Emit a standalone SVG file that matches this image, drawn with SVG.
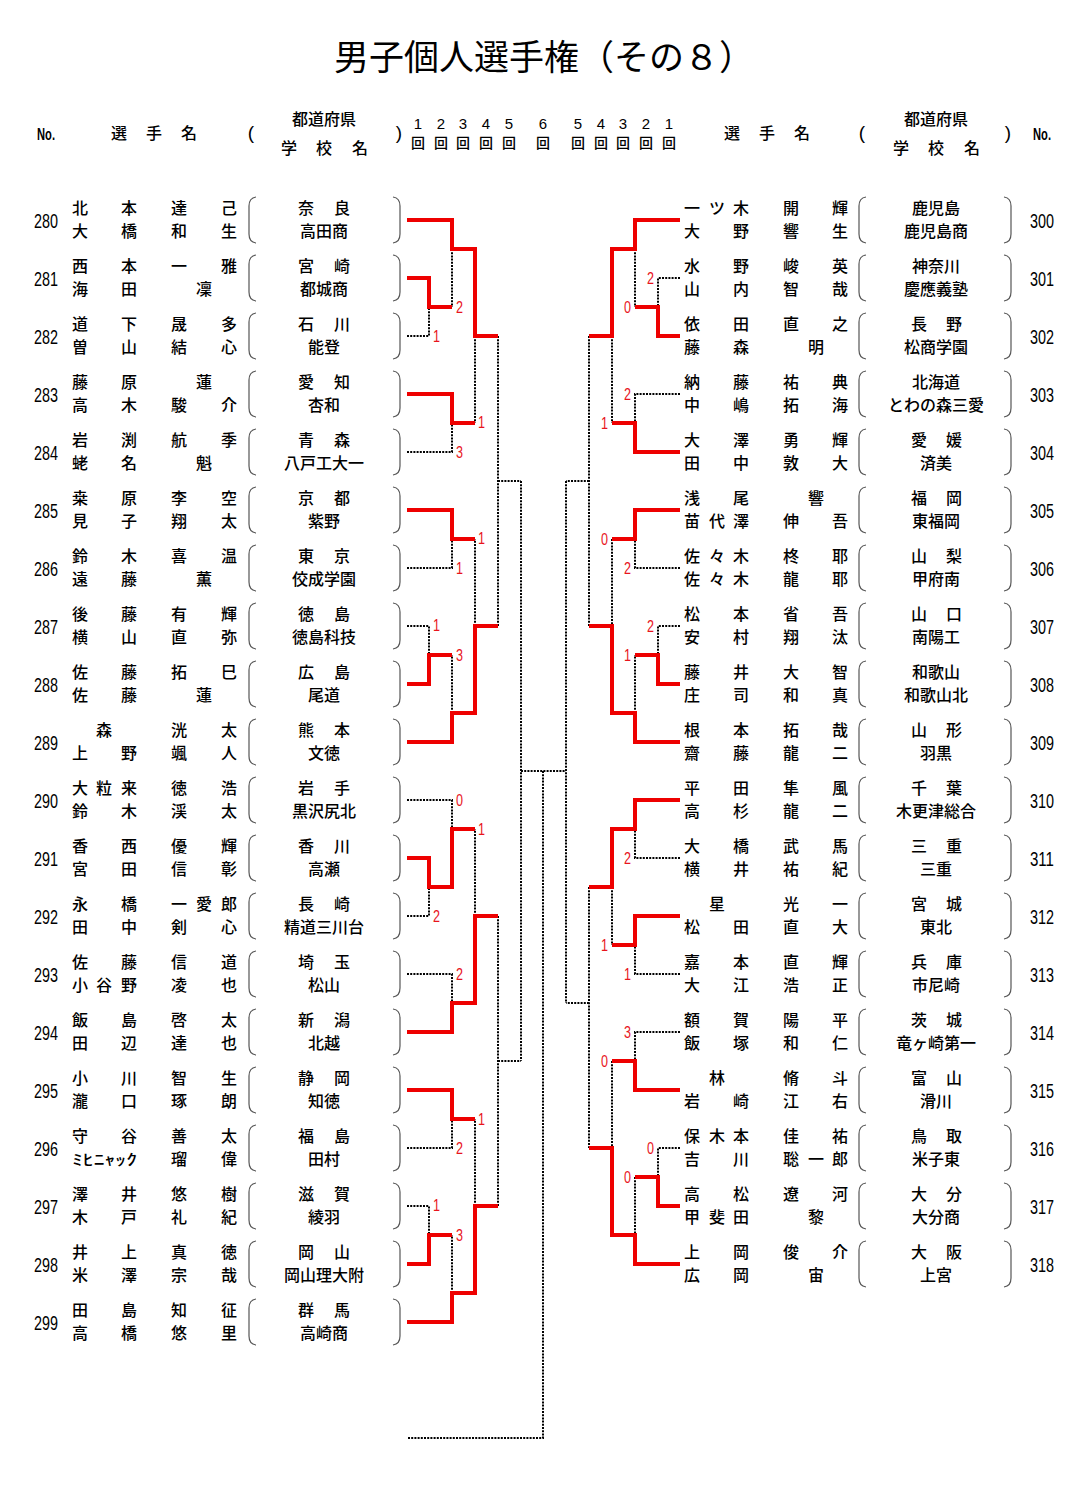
<svg xmlns="http://www.w3.org/2000/svg" xmlns:xlink="http://www.w3.org/1999/xlink" width="1083" height="1490" viewBox="0 0 1083 1490">
<style>
.t{font-family:"Noto Sans CJK JP","Noto Sans CJK SC",sans-serif;font-size:16px;font-weight:500;fill:#000;text-anchor:middle}
.n{font-family:"Liberation Sans Narrow","Liberation Sans",sans-serif;font-size:19px;fill:#000;text-anchor:middle}
.m{font-family:"Liberation Sans Narrow","Liberation Sans",sans-serif;font-size:20px;fill:#000;text-anchor:middle}
.h{font-family:"Liberation Sans",sans-serif;font-size:15px;fill:#000;text-anchor:middle}
.s{font-family:"Liberation Sans Narrow","Liberation Sans",sans-serif;font-size:17px;fill:#e8141c}
.e{text-anchor:end}
.w{fill:none;stroke:#ee0000;stroke-width:4}
.d{fill:none;stroke:#000;stroke-width:2;stroke-dasharray:2 1.2}
.p{fill:none;stroke:#555;stroke-width:1.2}
</style>
<defs>
<path id="lb" class="p" d="M7 -23Q0 -22 0 -14V14Q0 22 7 23"/>
<path id="rb" class="p" d="M0 -23Q7 -22 7 -14V14Q7 22 0 23"/>
</defs>
<rect width="1083" height="1490" fill="#fff"/>
<g id="title"><text class="t" x="544" y="70" style="font-size:35px;font-weight:400">男子個人選手権（その８）</text></g>
<g id="header">
<text class="n" x="46" y="140" style="font-size:17px;font-weight:bold" textLength="18" lengthAdjust="spacingAndGlyphs">No.</text>
<text class="t" x="119 154 189" y="139">選手名</text>
<text class="n" x="251" y="139">(</text>
<text class="t" x="324" y="125">都道府県</text>
<text class="t" x="289 324 360" y="154">学校名</text>
<text class="n" x="399" y="139">)</text>
<text class="h" x="418 441 463 486 509 543 578 601 623 646 669" y="129">12345654321</text>
<text class="t" x="418 441 463 486 509 543 578 601 623 646 669" y="148" style="font-size:14px">回回回回回回回回回回回</text>
<text class="t" x="732 767 802" y="139">選手名</text>
<text class="n" x="862" y="139">(</text>
<text class="t" x="936" y="125">都道府県</text>
<text class="t" x="901 936 972" y="154">学校名</text>
<text class="n" x="1008" y="139">)</text>
<text class="n" x="1042" y="140" style="font-size:17px;font-weight:bold" textLength="18" lengthAdjust="spacingAndGlyphs">No.</text>
</g>
<g id="left-players">
<g id="p280"><text class="m" x="46" y="228" textLength="24" lengthAdjust="spacingAndGlyphs">280</text><text class="t" x="80 129 179 229" y="214">北本達己</text><text class="t" x="80 129 179 229" y="237">大橋和生</text><text class="t" x="306 342" y="214">奈良</text><text class="t" x="324" y="237">高田商</text><use href="#lb" x="249" y="220"/><use href="#rb" x="393" y="220"/></g>
<g id="p281"><text class="m" x="46" y="286" textLength="24" lengthAdjust="spacingAndGlyphs">281</text><text class="t" x="80 129 179 229" y="272">西本一雅</text><text class="t" x="80 129 204" y="295">海田凜</text><text class="t" x="306 342" y="272">宮崎</text><text class="t" x="324" y="295">都城商</text><use href="#lb" x="249" y="278"/><use href="#rb" x="393" y="278"/></g>
<g id="p282"><text class="m" x="46" y="344" textLength="24" lengthAdjust="spacingAndGlyphs">282</text><text class="t" x="80 129 179 229" y="330">道下晟多</text><text class="t" x="80 129 179 229" y="353">曽山結心</text><text class="t" x="306 342" y="330">石川</text><text class="t" x="324" y="353">能登</text><use href="#lb" x="249" y="336"/><use href="#rb" x="393" y="336"/></g>
<g id="p283"><text class="m" x="46" y="402" textLength="24" lengthAdjust="spacingAndGlyphs">283</text><text class="t" x="80 129 204" y="388">藤原蓮</text><text class="t" x="80 129 179 229" y="411">高木駿介</text><text class="t" x="306 342" y="388">愛知</text><text class="t" x="324" y="411">杏和</text><use href="#lb" x="249" y="394"/><use href="#rb" x="393" y="394"/></g>
<g id="p284"><text class="m" x="46" y="460" textLength="24" lengthAdjust="spacingAndGlyphs">284</text><text class="t" x="80 129 179 229" y="446">岩渕航季</text><text class="t" x="80 129 204" y="469">蛯名魁</text><text class="t" x="306 342" y="446">青森</text><text class="t" x="324" y="469">八戸工大一</text><use href="#lb" x="249" y="452"/><use href="#rb" x="393" y="452"/></g>
<g id="p285"><text class="m" x="46" y="518" textLength="24" lengthAdjust="spacingAndGlyphs">285</text><text class="t" x="80 129 179 229" y="504">桒原李空</text><text class="t" x="80 129 179 229" y="527">見子翔太</text><text class="t" x="306 342" y="504">京都</text><text class="t" x="324" y="527">紫野</text><use href="#lb" x="249" y="510"/><use href="#rb" x="393" y="510"/></g>
<g id="p286"><text class="m" x="46" y="576" textLength="24" lengthAdjust="spacingAndGlyphs">286</text><text class="t" x="80 129 179 229" y="562">鈴木喜温</text><text class="t" x="80 129 204" y="585">遠藤薫</text><text class="t" x="306 342" y="562">東京</text><text class="t" x="324" y="585">佼成学園</text><use href="#lb" x="249" y="568"/><use href="#rb" x="393" y="568"/></g>
<g id="p287"><text class="m" x="46" y="634" textLength="24" lengthAdjust="spacingAndGlyphs">287</text><text class="t" x="80 129 179 229" y="620">後藤有輝</text><text class="t" x="80 129 179 229" y="643">横山直弥</text><text class="t" x="306 342" y="620">徳島</text><text class="t" x="324" y="643">徳島科技</text><use href="#lb" x="249" y="626"/><use href="#rb" x="393" y="626"/></g>
<g id="p288"><text class="m" x="46" y="692" textLength="24" lengthAdjust="spacingAndGlyphs">288</text><text class="t" x="80 129 179 229" y="678">佐藤拓巳</text><text class="t" x="80 129 204" y="701">佐藤蓮</text><text class="t" x="306 342" y="678">広島</text><text class="t" x="324" y="701">尾道</text><use href="#lb" x="249" y="684"/><use href="#rb" x="393" y="684"/></g>
<g id="p289"><text class="m" x="46" y="750" textLength="24" lengthAdjust="spacingAndGlyphs">289</text><text class="t" x="104 179 229" y="736">森洸太</text><text class="t" x="80 129 179 229" y="759">上野颯人</text><text class="t" x="306 342" y="736">熊本</text><text class="t" x="324" y="759">文徳</text><use href="#lb" x="249" y="742"/><use href="#rb" x="393" y="742"/></g>
<g id="p290"><text class="m" x="46" y="808" textLength="24" lengthAdjust="spacingAndGlyphs">290</text><text class="t" x="80 104 129 179 229" y="794">大粒来徳浩</text><text class="t" x="80 129 179 229" y="817">鈴木渓太</text><text class="t" x="306 342" y="794">岩手</text><text class="t" x="324" y="817">黒沢尻北</text><use href="#lb" x="249" y="800"/><use href="#rb" x="393" y="800"/></g>
<g id="p291"><text class="m" x="46" y="866" textLength="24" lengthAdjust="spacingAndGlyphs">291</text><text class="t" x="80 129 179 229" y="852">香西優輝</text><text class="t" x="80 129 179 229" y="875">宮田信彰</text><text class="t" x="306 342" y="852">香川</text><text class="t" x="324" y="875">高瀬</text><use href="#lb" x="249" y="858"/><use href="#rb" x="393" y="858"/></g>
<g id="p292"><text class="m" x="46" y="924" textLength="24" lengthAdjust="spacingAndGlyphs">292</text><text class="t" x="80 129 179 204 229" y="910">永橋一愛郎</text><text class="t" x="80 129 179 229" y="933">田中剣心</text><text class="t" x="306 342" y="910">長崎</text><text class="t" x="324" y="933">精道三川台</text><use href="#lb" x="249" y="916"/><use href="#rb" x="393" y="916"/></g>
<g id="p293"><text class="m" x="46" y="982" textLength="24" lengthAdjust="spacingAndGlyphs">293</text><text class="t" x="80 129 179 229" y="968">佐藤信道</text><text class="t" x="80 104 129 179 229" y="991">小谷野凌也</text><text class="t" x="306 342" y="968">埼玉</text><text class="t" x="324" y="991">松山</text><use href="#lb" x="249" y="974"/><use href="#rb" x="393" y="974"/></g>
<g id="p294"><text class="m" x="46" y="1040" textLength="24" lengthAdjust="spacingAndGlyphs">294</text><text class="t" x="80 129 179 229" y="1026">飯島啓太</text><text class="t" x="80 129 179 229" y="1049">田辺達也</text><text class="t" x="306 342" y="1026">新潟</text><text class="t" x="324" y="1049">北越</text><use href="#lb" x="249" y="1032"/><use href="#rb" x="393" y="1032"/></g>
<g id="p295"><text class="m" x="46" y="1098" textLength="24" lengthAdjust="spacingAndGlyphs">295</text><text class="t" x="80 129 179 229" y="1084">小川智生</text><text class="t" x="80 129 179 229" y="1107">瀧口琢朗</text><text class="t" x="306 342" y="1084">静岡</text><text class="t" x="324" y="1107">知徳</text><use href="#lb" x="249" y="1090"/><use href="#rb" x="393" y="1090"/></g>
<g id="p296"><text class="m" x="46" y="1156" textLength="24" lengthAdjust="spacingAndGlyphs">296</text><text class="t" x="80 129 179 229" y="1142">守谷善太</text><text class="t" x="72" y="1165" style="text-anchor:start;font-size:15px" textLength="65" lengthAdjust="spacingAndGlyphs">ﾐﾋﾆｬｯｸ</text><text class="t" x="179 229" y="1165">瑠偉</text><text class="t" x="306 342" y="1142">福島</text><text class="t" x="324" y="1165">田村</text><use href="#lb" x="249" y="1148"/><use href="#rb" x="393" y="1148"/></g>
<g id="p297"><text class="m" x="46" y="1214" textLength="24" lengthAdjust="spacingAndGlyphs">297</text><text class="t" x="80 129 179 229" y="1200">澤井悠樹</text><text class="t" x="80 129 179 229" y="1223">木戸礼紀</text><text class="t" x="306 342" y="1200">滋賀</text><text class="t" x="324" y="1223">綾羽</text><use href="#lb" x="249" y="1206"/><use href="#rb" x="393" y="1206"/></g>
<g id="p298"><text class="m" x="46" y="1272" textLength="24" lengthAdjust="spacingAndGlyphs">298</text><text class="t" x="80 129 179 229" y="1258">井上真徳</text><text class="t" x="80 129 179 229" y="1281">米澤宗哉</text><text class="t" x="306 342" y="1258">岡山</text><text class="t" x="324" y="1281">岡山理大附</text><use href="#lb" x="249" y="1264"/><use href="#rb" x="393" y="1264"/></g>
<g id="p299"><text class="m" x="46" y="1330" textLength="24" lengthAdjust="spacingAndGlyphs">299</text><text class="t" x="80 129 179 229" y="1316">田島知征</text><text class="t" x="80 129 179 229" y="1339">高橋悠里</text><text class="t" x="306 342" y="1316">群馬</text><text class="t" x="324" y="1339">高崎商</text><use href="#lb" x="249" y="1322"/><use href="#rb" x="393" y="1322"/></g>
</g>
<g id="right-players">
<g id="p300"><text class="t" x="692 717 741 791 840" y="214">一ツ木開輝</text><text class="t" x="692 741 791 840" y="237">大野響生</text><text class="t" x="936" y="214">鹿児島</text><text class="t" x="936" y="237">鹿児島商</text><use href="#lb" x="859" y="220"/><use href="#rb" x="1004" y="220"/><text class="m" x="1042" y="228" textLength="24" lengthAdjust="spacingAndGlyphs">300</text></g>
<g id="p301"><text class="t" x="692 741 791 840" y="272">水野峻英</text><text class="t" x="692 741 791 840" y="295">山内智哉</text><text class="t" x="936" y="272">神奈川</text><text class="t" x="936" y="295">慶應義塾</text><use href="#lb" x="859" y="278"/><use href="#rb" x="1004" y="278"/><text class="m" x="1042" y="286" textLength="24" lengthAdjust="spacingAndGlyphs">301</text></g>
<g id="p302"><text class="t" x="692 741 791 840" y="330">依田直之</text><text class="t" x="692 741 816" y="353">藤森明</text><text class="t" x="919 954" y="330">長野</text><text class="t" x="936" y="353">松商学園</text><use href="#lb" x="859" y="336"/><use href="#rb" x="1004" y="336"/><text class="m" x="1042" y="344" textLength="24" lengthAdjust="spacingAndGlyphs">302</text></g>
<g id="p303"><text class="t" x="692 741 791 840" y="388">納藤祐典</text><text class="t" x="692 741 791 840" y="411">中嶋拓海</text><text class="t" x="936" y="388">北海道</text><text class="t" x="936" y="411">とわの森三愛</text><use href="#lb" x="859" y="394"/><use href="#rb" x="1004" y="394"/><text class="m" x="1042" y="402" textLength="24" lengthAdjust="spacingAndGlyphs">303</text></g>
<g id="p304"><text class="t" x="692 741 791 840" y="446">大澤勇輝</text><text class="t" x="692 741 791 840" y="469">田中敦大</text><text class="t" x="919 954" y="446">愛媛</text><text class="t" x="936" y="469">済美</text><use href="#lb" x="859" y="452"/><use href="#rb" x="1004" y="452"/><text class="m" x="1042" y="460" textLength="24" lengthAdjust="spacingAndGlyphs">304</text></g>
<g id="p305"><text class="t" x="692 741 816" y="504">浅尾響</text><text class="t" x="692 717 741 791 840" y="527">苗代澤伸吾</text><text class="t" x="919 954" y="504">福岡</text><text class="t" x="936" y="527">東福岡</text><use href="#lb" x="859" y="510"/><use href="#rb" x="1004" y="510"/><text class="m" x="1042" y="518" textLength="24" lengthAdjust="spacingAndGlyphs">305</text></g>
<g id="p306"><text class="t" x="692 717 741 791 840" y="562">佐々木柊耶</text><text class="t" x="692 717 741 791 840" y="585">佐々木龍耶</text><text class="t" x="919 954" y="562">山梨</text><text class="t" x="936" y="585">甲府南</text><use href="#lb" x="859" y="568"/><use href="#rb" x="1004" y="568"/><text class="m" x="1042" y="576" textLength="24" lengthAdjust="spacingAndGlyphs">306</text></g>
<g id="p307"><text class="t" x="692 741 791 840" y="620">松本省吾</text><text class="t" x="692 741 791 840" y="643">安村翔汰</text><text class="t" x="919 954" y="620">山口</text><text class="t" x="936" y="643">南陽工</text><use href="#lb" x="859" y="626"/><use href="#rb" x="1004" y="626"/><text class="m" x="1042" y="634" textLength="24" lengthAdjust="spacingAndGlyphs">307</text></g>
<g id="p308"><text class="t" x="692 741 791 840" y="678">藤井大智</text><text class="t" x="692 741 791 840" y="701">庄司和真</text><text class="t" x="936" y="678">和歌山</text><text class="t" x="936" y="701">和歌山北</text><use href="#lb" x="859" y="684"/><use href="#rb" x="1004" y="684"/><text class="m" x="1042" y="692" textLength="24" lengthAdjust="spacingAndGlyphs">308</text></g>
<g id="p309"><text class="t" x="692 741 791 840" y="736">根本拓哉</text><text class="t" x="692 741 791 840" y="759">齋藤龍二</text><text class="t" x="919 954" y="736">山形</text><text class="t" x="936" y="759">羽黒</text><use href="#lb" x="859" y="742"/><use href="#rb" x="1004" y="742"/><text class="m" x="1042" y="750" textLength="24" lengthAdjust="spacingAndGlyphs">309</text></g>
<g id="p310"><text class="t" x="692 741 791 840" y="794">平田隼風</text><text class="t" x="692 741 791 840" y="817">高杉龍二</text><text class="t" x="919 954" y="794">千葉</text><text class="t" x="936" y="817">木更津総合</text><use href="#lb" x="859" y="800"/><use href="#rb" x="1004" y="800"/><text class="m" x="1042" y="808" textLength="24" lengthAdjust="spacingAndGlyphs">310</text></g>
<g id="p311"><text class="t" x="692 741 791 840" y="852">大橋武馬</text><text class="t" x="692 741 791 840" y="875">横井祐紀</text><text class="t" x="919 954" y="852">三重</text><text class="t" x="936" y="875">三重</text><use href="#lb" x="859" y="858"/><use href="#rb" x="1004" y="858"/><text class="m" x="1042" y="866" textLength="24" lengthAdjust="spacingAndGlyphs">311</text></g>
<g id="p312"><text class="t" x="717 791 840" y="910">星光一</text><text class="t" x="692 741 791 840" y="933">松田直大</text><text class="t" x="919 954" y="910">宮城</text><text class="t" x="936" y="933">東北</text><use href="#lb" x="859" y="916"/><use href="#rb" x="1004" y="916"/><text class="m" x="1042" y="924" textLength="24" lengthAdjust="spacingAndGlyphs">312</text></g>
<g id="p313"><text class="t" x="692 741 791 840" y="968">嘉本直輝</text><text class="t" x="692 741 791 840" y="991">大江浩正</text><text class="t" x="919 954" y="968">兵庫</text><text class="t" x="936" y="991">市尼崎</text><use href="#lb" x="859" y="974"/><use href="#rb" x="1004" y="974"/><text class="m" x="1042" y="982" textLength="24" lengthAdjust="spacingAndGlyphs">313</text></g>
<g id="p314"><text class="t" x="692 741 791 840" y="1026">額賀陽平</text><text class="t" x="692 741 791 840" y="1049">飯塚和仁</text><text class="t" x="919 954" y="1026">茨城</text><text class="t" x="936" y="1049">竜ヶ崎第一</text><use href="#lb" x="859" y="1032"/><use href="#rb" x="1004" y="1032"/><text class="m" x="1042" y="1040" textLength="24" lengthAdjust="spacingAndGlyphs">314</text></g>
<g id="p315"><text class="t" x="717 791 840" y="1084">林脩斗</text><text class="t" x="692 741 791 840" y="1107">岩崎江右</text><text class="t" x="919 954" y="1084">富山</text><text class="t" x="936" y="1107">滑川</text><use href="#lb" x="859" y="1090"/><use href="#rb" x="1004" y="1090"/><text class="m" x="1042" y="1098" textLength="24" lengthAdjust="spacingAndGlyphs">315</text></g>
<g id="p316"><text class="t" x="692 717 741 791 840" y="1142">保木本佳祐</text><text class="t" x="692 741 791 816 840" y="1165">吉川聡一郎</text><text class="t" x="919 954" y="1142">鳥取</text><text class="t" x="936" y="1165">米子東</text><use href="#lb" x="859" y="1148"/><use href="#rb" x="1004" y="1148"/><text class="m" x="1042" y="1156" textLength="24" lengthAdjust="spacingAndGlyphs">316</text></g>
<g id="p317"><text class="t" x="692 741 791 840" y="1200">高松遼河</text><text class="t" x="692 717 741 816" y="1223">甲斐田黎</text><text class="t" x="919 954" y="1200">大分</text><text class="t" x="936" y="1223">大分商</text><use href="#lb" x="859" y="1206"/><use href="#rb" x="1004" y="1206"/><text class="m" x="1042" y="1214" textLength="24" lengthAdjust="spacingAndGlyphs">317</text></g>
<g id="p318"><text class="t" x="692 741 791 840" y="1258">上岡俊介</text><text class="t" x="692 741 816" y="1281">広岡宙</text><text class="t" x="919 954" y="1258">大阪</text><text class="t" x="936" y="1281">上宮</text><use href="#lb" x="859" y="1264"/><use href="#rb" x="1004" y="1264"/><text class="m" x="1042" y="1272" textLength="24" lengthAdjust="spacingAndGlyphs">318</text></g>
</g>
<g id="connectors">
<g id="dotted">
<path class="d" d="M407 336H429V307M452 249V307M407 452H452V423M475 336V423M407 568H452V539M407 626H429V655M452 713V655M475 626V539M498 336V626M498 481H521M407 800H452V829M407 916H429V887M407 974H452V1003M475 916V829M407 1148H452V1119M407 1206H429V1235M452 1293V1235M475 1206V1119M498 916V1206M498 1061H521M521 481V1061M521 771H566M543 771V1438H407M566 481V1003"/>
<path class="d" d="M680 278H658V307M635 249V307M680 394H635V423M612 336V423M680 568H635V539M612 539V626M680 626H658V655M635 713V655M589 336V626M589 481H566M680 858H635V829M680 974H635V945M612 887V945M680 1032H635V1061M612 1061V1148M680 1148H658V1177M635 1177V1235M589 887V1148M589 1003H566"/>
</g>
<g id="winners">
<path class="w" d="M407 220H452V249H475V336H498"/>
<path class="w" d="M407 278H429V307H452"/>
<path class="w" d="M407 394H452V423H475"/>
<path class="w" d="M407 510H452V539H475"/>
<path class="w" d="M407 684H429V655H452"/>
<path class="w" d="M407 742H452V713H475V626H498"/>
<path class="w" d="M407 858H429V887H452V829H475"/>
<path class="w" d="M407 1032H452V1003H475V916H498"/>
<path class="w" d="M407 1090H452V1119H475"/>
<path class="w" d="M407 1264H429V1235H452"/>
<path class="w" d="M407 1322H452V1293H475V1206H498"/>
<path class="w" d="M680 220H635V249H612V336H589"/>
<path class="w" d="M680 336H658V307H635"/>
<path class="w" d="M680 452H635V423H612"/>
<path class="w" d="M680 510H635V539H612"/>
<path class="w" d="M680 684H658V655H635"/>
<path class="w" d="M680 742H635V713H612V626H589"/>
<path class="w" d="M680 800H635V829H612V887H589"/>
<path class="w" d="M680 916H635V945H612"/>
<path class="w" d="M680 1090H635V1061H612"/>
<path class="w" d="M680 1206H658V1177H635"/>
<path class="w" d="M680 1264H635V1235H612V1148H589"/>
</g>
<g id="scores">
<text class="s" x="433" y="342" textLength="7" lengthAdjust="spacingAndGlyphs">1</text>
<text class="s" x="456" y="313" textLength="7" lengthAdjust="spacingAndGlyphs">2</text>
<text class="s" x="478" y="428" textLength="7" lengthAdjust="spacingAndGlyphs">1</text>
<text class="s" x="456" y="458" textLength="7" lengthAdjust="spacingAndGlyphs">3</text>
<text class="s" x="478" y="544" textLength="7" lengthAdjust="spacingAndGlyphs">1</text>
<text class="s" x="456" y="574" textLength="7" lengthAdjust="spacingAndGlyphs">1</text>
<text class="s" x="433" y="631" textLength="7" lengthAdjust="spacingAndGlyphs">1</text>
<text class="s" x="456" y="661" textLength="7" lengthAdjust="spacingAndGlyphs">3</text>
<text class="s" x="456" y="806" textLength="7" lengthAdjust="spacingAndGlyphs">0</text>
<text class="s" x="478" y="835" textLength="7" lengthAdjust="spacingAndGlyphs">1</text>
<text class="s" x="433" y="922" textLength="7" lengthAdjust="spacingAndGlyphs">2</text>
<text class="s" x="456" y="980" textLength="7" lengthAdjust="spacingAndGlyphs">2</text>
<text class="s" x="478" y="1125" textLength="7" lengthAdjust="spacingAndGlyphs">1</text>
<text class="s" x="456" y="1154" textLength="7" lengthAdjust="spacingAndGlyphs">2</text>
<text class="s" x="433" y="1211" textLength="7" lengthAdjust="spacingAndGlyphs">1</text>
<text class="s" x="456" y="1241" textLength="7" lengthAdjust="spacingAndGlyphs">3</text>
<text class="s e" x="654" y="284" textLength="7" lengthAdjust="spacingAndGlyphs">2</text>
<text class="s e" x="631" y="313" textLength="7" lengthAdjust="spacingAndGlyphs">0</text>
<text class="s e" x="631" y="400" textLength="7" lengthAdjust="spacingAndGlyphs">2</text>
<text class="s e" x="608" y="429" textLength="7" lengthAdjust="spacingAndGlyphs">1</text>
<text class="s e" x="608" y="545" textLength="7" lengthAdjust="spacingAndGlyphs">0</text>
<text class="s e" x="631" y="574" textLength="7" lengthAdjust="spacingAndGlyphs">2</text>
<text class="s e" x="654" y="632" textLength="7" lengthAdjust="spacingAndGlyphs">2</text>
<text class="s e" x="631" y="661" textLength="7" lengthAdjust="spacingAndGlyphs">1</text>
<text class="s e" x="631" y="864" textLength="7" lengthAdjust="spacingAndGlyphs">2</text>
<text class="s e" x="608" y="951" textLength="7" lengthAdjust="spacingAndGlyphs">1</text>
<text class="s e" x="631" y="980" textLength="7" lengthAdjust="spacingAndGlyphs">1</text>
<text class="s e" x="631" y="1038" textLength="7" lengthAdjust="spacingAndGlyphs">3</text>
<text class="s e" x="608" y="1067" textLength="7" lengthAdjust="spacingAndGlyphs">0</text>
<text class="s e" x="654" y="1154" textLength="7" lengthAdjust="spacingAndGlyphs">0</text>
<text class="s e" x="631" y="1183" textLength="7" lengthAdjust="spacingAndGlyphs">0</text>
</g>
</g>
</svg>
